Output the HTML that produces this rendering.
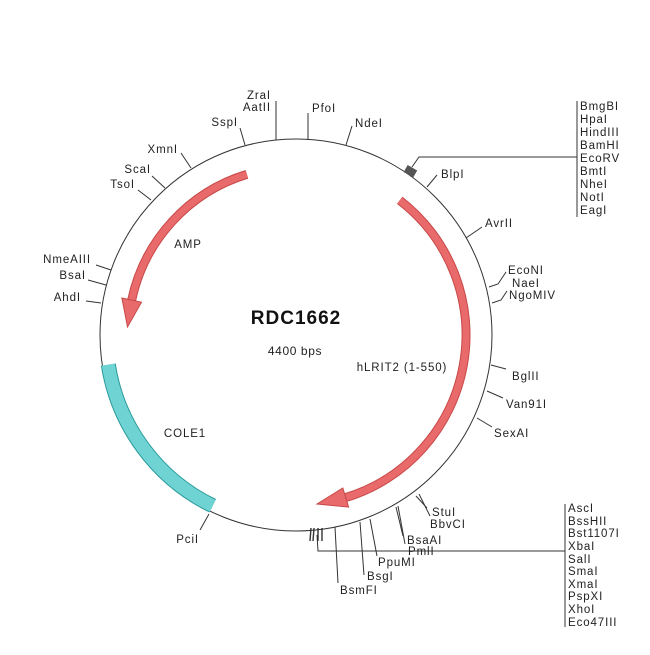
<!DOCTYPE html>
<html><head><meta charset="utf-8"><style>
html,body{margin:0;padding:0;background:#fff;}
svg text{font-family:"Liberation Sans",Arial,sans-serif;font-size:11.5px;letter-spacing:0.9px;fill:#222;}
</style></head><body>
<svg width="650" height="650" viewBox="0 0 650 650" xmlns="http://www.w3.org/2000/svg">
<rect width="650" height="650" fill="#fff"/>
<circle cx="296" cy="335" r="196" fill="none" stroke="#333" stroke-width="1"/>
<path d="M212.7,505.8 A190,190 0 0 1 108.3,364.7" fill="none" stroke="#2a9a9a" stroke-width="15"/>
<path d="M212.7,505.8 A190,190 0 0 1 108.3,364.7" fill="none" stroke="#6fd3d3" stroke-width="13"/>
<path d="M246.9,174.3 A168,168 0 0 0 131.7,300.1" fill="none" stroke="#c84848" stroke-width="9"/>
<path d="M246.9,174.3 A168,168 0 0 0 131.7,300.1" fill="none" stroke="#e86a6a" stroke-width="7"/>
<polygon points="141.5,302.2 121.9,298 127.5,327" fill="#e86a6a" stroke="#c84848" stroke-width="1"/>
<path d="M399.7,200.3 A170,170 0 0 1 345.7,497.6" fill="none" stroke="#c84848" stroke-width="9"/>
<path d="M399.7,200.3 A170,170 0 0 1 345.7,497.6" fill="none" stroke="#e86a6a" stroke-width="7"/>
<polygon points="342.8,488 348.6,507.1 317,504" fill="#e86a6a" stroke="#c84848" stroke-width="1"/>

<text x="296" y="324" text-anchor="middle" style="font-size:19px;font-weight:bold;fill:#111;letter-spacing:1px">RDC1662</text>
<text x="295" y="355" text-anchor="middle" style="font-size:12px;letter-spacing:0.6px">4400 bps</text>
<text x="188" y="248" text-anchor="middle">AMP</text>
<text x="402" y="371" text-anchor="middle">hLRIT2 (1-550)</text>
<text x="185" y="437" text-anchor="middle">COLE1</text>

<g stroke="#333" stroke-width="1" fill="none">
<line x1="276" y1="140" x2="276" y2="101"/>
<line x1="308" y1="140" x2="308" y2="113"/>
<line x1="245" y1="145" x2="240" y2="128"/>
<line x1="346" y1="145" x2="352" y2="126"/>
<line x1="191" y1="168" x2="181" y2="153"/>
<line x1="165" y1="188" x2="152" y2="176"/>
<line x1="151" y1="200" x2="138" y2="190"/>
<line x1="111" y1="270" x2="96" y2="265"/>
<line x1="106" y1="285" x2="88" y2="280"/>
<line x1="101" y1="303" x2="86" y2="301"/>
<line x1="427" y1="187" x2="437" y2="175"/>
<line x1="466" y1="238" x2="482" y2="227"/>
<polyline points="489,287 498,284 506,272"/>
<polyline points="492,303 501,300 507,291"/>
<line x1="491" y1="365" x2="506" y2="369"/>
<line x1="487" y1="391" x2="503" y2="398"/>
<line x1="477" y1="418" x2="492" y2="427"/>
<line x1="419" y1="494" x2="430" y2="516"/>
<line x1="416" y1="496" x2="427" y2="508"/>
<line x1="398" y1="506" x2="405" y2="544"/>
<line x1="396" y1="507" x2="403" y2="536"/>
<line x1="370" y1="519" x2="377" y2="556"/>
<line x1="360" y1="522" x2="364" y2="575"/>
<line x1="335" y1="527" x2="338" y2="583"/>
<line x1="209" y1="514" x2="200" y2="530"/>
<polyline points="412,167 419,157 577,157"/>
<line x1="577" y1="101" x2="577" y2="217"/>
<polyline points="317,535 318,551 565,551"/>
<line x1="565" y1="504" x2="565" y2="627"/>
</g>
<rect x="405" y="167" width="11" height="8" fill="#555" transform="rotate(30 410 171)"/>
<g stroke="#333" stroke-width="1.4"><line x1="311" y1="528" x2="310" y2="541"/><line x1="314" y1="528" x2="313" y2="541"/><line x1="318" y1="528" x2="318" y2="541"/><line x1="322" y1="528" x2="322" y2="541"/></g>

<g text-anchor="end">
<text x="271" y="99">ZraI</text>
<text x="271" y="111">AatII</text>
<text x="238" y="126">SspI</text>
<text x="178" y="153">XmnI</text>
<text x="151" y="173">ScaI</text>
<text x="135" y="188">TsoI</text>
<text x="91" y="263">NmeAIII</text>
<text x="86" y="279">BsaI</text>
<text x="81" y="301">AhdI</text>
<text x="199" y="543">PciI</text>
</g>
<text x="312" y="112">PfoI</text>
<text x="355" y="127">NdeI</text>
<text x="441" y="178">BlpI</text>
<text x="485" y="227">AvrII</text>
<text x="508" y="274">EcoNI</text>
<text x="512" y="287">NaeI</text>
<text x="509" y="299">NgoMIV</text>
<text x="512" y="380">BglII</text>
<text x="506" y="408">Van91I</text>
<text x="494" y="437">SexAI</text>
<text x="432" y="516">StuI</text>
<text x="430" y="528">BbvCI</text>
<text x="407" y="544">BsaAI</text>
<text x="408" y="555">PmlI</text>
<text x="378" y="566">PpuMI</text>
<text x="367" y="580">BsgI</text>
<text x="340" y="594">BsmFI</text>
<g>
<text x="580" y="110">BmgBI</text><text x="580" y="123">HpaI</text><text x="580" y="136">HindIII</text>
<text x="580" y="149">BamHI</text><text x="580" y="162">EcoRV</text><text x="580" y="175">BmtI</text>
<text x="580" y="188">NheI</text><text x="580" y="201">NotI</text><text x="580" y="214">EagI</text>
</g>
<g>
<text x="568" y="512">AscI</text><text x="568" y="525">BssHII</text><text x="568" y="537">Bst1107I</text>
<text x="568" y="550">XbaI</text><text x="568" y="563">SalI</text><text x="568" y="575">SmaI</text>
<text x="568" y="588">XmaI</text><text x="568" y="600">PspXI</text><text x="568" y="613">XhoI</text>
<text x="568" y="626">Eco47III</text>
</g>
</svg>
</body></html>
